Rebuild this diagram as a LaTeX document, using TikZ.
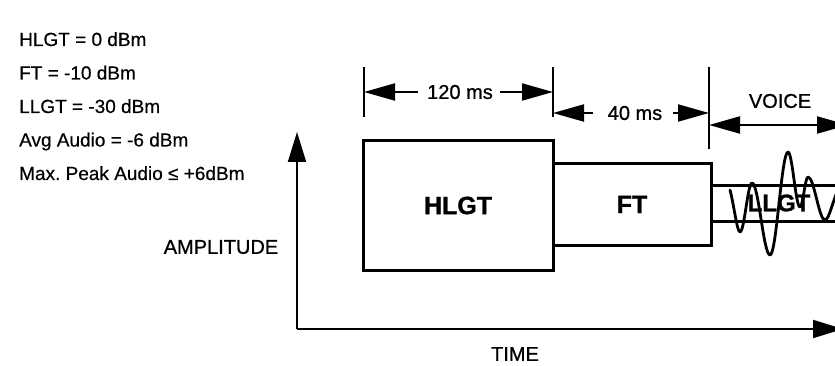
\documentclass[tikz,border=0pt]{standalone}
\usepackage{fontspec}
\setmainfont{Liberation Sans}
\newfontfamily\medfont[FakeBold=0.8]{Liberation Sans}
\newfontfamily\listfont[FakeBold=0.4]{Liberation Sans}
\newfontfamily\heavyfont[FakeBold=1.2]{Liberation Sans Bold}
\usetikzlibrary{arrows.meta}
\begin{document}
\begin{tikzpicture}[x=1pt,y=-1pt,
  listtxt/.style={anchor=base west,inner sep=0pt,font=\listfont\fontsize{19}{22}\selectfont},
  lbl/.style={inner sep=0pt,font=\medfont\fontsize{20}{24}\selectfont},
  boxlbl/.style={inner sep=0pt,font=\heavyfont\fontsize{25}{30}\selectfont},
  blk/.style={draw,line width=3pt,minimum width=#1,inner sep=0pt},
  tick/.style={line width=1.5pt},
  dimline/.style={line width=2pt,-{Triangle[length=31pt,width=17pt]}},
  axis/.style={line width=2pt,-{Triangle[length=30pt,width=18pt]}},
  band/.style={line width=3pt},
  wave/.style={line width=2.8pt,line join=round,line cap=round}]
\clip (0,0) rectangle (835,366);
\fill[white] (0,0) rectangle (835,366);

% legend text
\node[listtxt] (l1) at (19,46) {HLGT = 0 dBm};
\node[listtxt] (l2) at (19,79.5) {FT = -10 dBm};
\node[listtxt] (l3) at (19,113) {LLGT = -30 dBm};
\node[listtxt] (l4) at (19,146.5) {Avg Audio = -6 dBm};
\node[listtxt] (l5) at (19,180) {Max.\ Peak Audio ≤ +6dBm};

% axes
\coordinate (org) at (297,329);
\coordinate (ytop) at (297,132);
\coordinate (xend) at (843,329);
\draw[axis] (org) -- (ytop);
\draw[axis] (org) -- (xend);
\node[lbl] (amp) at (221,247) {AMPLITUDE};
\node[lbl] (time) at (515,354) {TIME};

% blocks
\node[blk=190pt,minimum height=129pt] (hlgt) at (458,205.5) {};
\node[boxlbl] at (hlgt.center) {HLGT};
\node[blk=158pt,minimum height=81pt] (ft) at (632,204.5) {};
\node[boxlbl] at (ft.center) {FT};

% LLGT band
\coordinate (bt0) at (711,186);
\coordinate (bt1) at (840,186);
\coordinate (bb0) at (711,222);
\coordinate (bb1) at (840,222);
\draw[band] (bt0) -- (bt1);
\draw[band] (bb0) -- (bb1);
\node[boxlbl,font=\heavyfont\fontsize{24}{28}\selectfont] (llgt) at (779,203) {LLGT};

% voice waveform
\draw[wave] (730,190) .. controls (734,205) and (737,232) .. (740,232)
  .. controls (744.4,232) and (747.6,183) .. (752,183)
  .. controls (758.6,183) and (763.4,255) .. (770,255)
  .. controls (776.6,255) and (781.4,152) .. (788,152)
  .. controls (792.4,152) and (795.6,207) .. (800,207)
  .. controls (802.9,207) and (805.1,177) .. (808,177)
  .. controls (814.2,177) and (818.8,220) .. (825,220)
  .. controls (829,220) and (833,200) .. (838,190);

% ticks
\coordinate (ta1) at (364,67); \coordinate (ta2) at (364,117);
\coordinate (tb1) at (553,67); \coordinate (tb2) at (553,117);
\coordinate (tc1) at (709,67); \coordinate (tc2) at (709,149);
\draw[tick] (ta1) -- (ta2);
\draw[tick] (tb1) -- (tb2);
\draw[tick] (tc1) -- (tc2);

% 120 ms
\node[lbl] (d120) at (460,92) {120 ms};
\coordinate (d120l) at (418,92); \coordinate (d120r) at (500,92);
\draw[dimline] (d120l) -- (ta1 |- d120l);
\draw[dimline] (d120r) -- (tb1 |- d120r);

% 40 ms
\node[lbl] (d40) at (635,113) {40 ms};
\coordinate (d40l) at (593,113); \coordinate (d40r) at (673,113);
\draw[dimline] (d40l) -- (tb1 |- d40l);
\draw[dimline] (d40r) -- (tc1 |- d40r);

% voice
\node[lbl] (voice) at (780,101) {VOICE};
\coordinate (vl) at (709,125); \coordinate (vr) at (848,125);
\draw[line width=2pt,{Triangle[length=31pt,width=17pt]}-{Triangle[length=31pt,width=17pt]}] (vl) -- (vr);
\end{tikzpicture}
\end{document}
